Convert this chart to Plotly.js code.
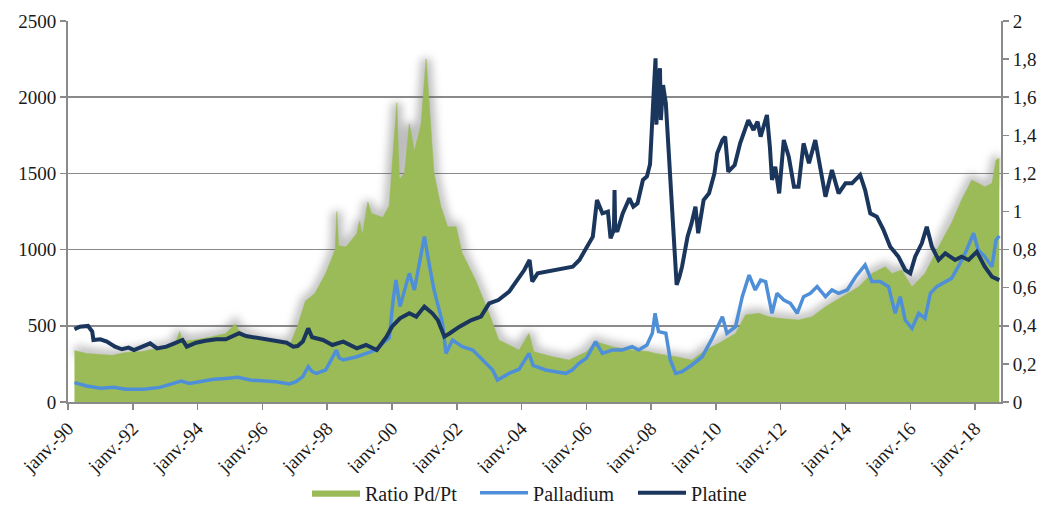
<!DOCTYPE html>
<html>
<head>
<meta charset="utf-8">
<script src="https://cdn.plot.ly/plotly-3.0.1.min.js"></script>
<style>
  html, body { margin: 0; padding: 0; background: #ffffff; }
  #chart { width: 1043px; height: 506px; }
</style>
</head>
<body>
<div id="chart"></div>
<script>
// Platinum price (USD/oz), left axis
const platineDates = ['1990-03-15','1990-05-15','1990-08-15','1990-10-01','1990-10-15','1991-01-01','1991-03-15','1991-06-15','1991-09-01','1991-11-15',
  '1992-01-15','1992-04-01','1992-07-15','1992-10-01','1993-01-15','1993-04-15','1993-07-15','1993-09-01','1993-12-15','1994-04-01',
  '1994-08-01','1994-11-15','1995-02-01','1995-04-15','1995-07-01','1995-10-15','1996-02-15','1996-06-01','1996-10-01','1996-12-15',
  '1997-02-01','1997-04-01','1997-06-01','1997-07-15','1997-11-15','1998-03-01','1998-07-01','1998-12-01','1999-03-15','1999-07-15',
  '1999-11-01','2000-01-01','2000-04-01','2000-07-15','2000-10-01','2001-01-01','2001-04-01','2001-06-01','2001-08-15','2001-10-15',
  '2002-02-01','2002-06-15','2002-10-01','2003-01-01','2003-04-15','2003-08-15','2003-12-01','2004-02-01','2004-04-01','2004-05-01',
  '2004-07-01','2004-10-01','2005-01-15','2005-05-15','2005-08-01','2005-10-15','2006-01-01','2006-03-15','2006-05-01','2006-07-01',
  '2006-09-01','2006-10-01','2006-11-08','2006-11-15','2006-11-22','2006-12-15','2007-02-15','2007-05-01','2007-06-15','2007-08-01',
  '2007-10-01','2007-11-15','2007-12-20','2008-01-15','2008-02-01','2008-02-20','2008-03-01','2008-03-20','2008-04-10','2008-04-20',
  '2008-05-15','2008-06-15','2008-08-01','2008-09-15','2008-10-15','2008-11-15','2008-12-15','2009-02-15','2009-04-01','2009-05-15',
  '2009-06-15','2009-08-15','2009-10-15','2009-12-15','2010-01-15','2010-03-15','2010-04-15','2010-05-20','2010-08-01','2010-10-01',
  '2011-01-01','2011-03-01','2011-04-15','2011-05-20','2011-07-30','2011-09-01','2011-09-25','2011-11-01','2011-12-15','2012-02-05',
  '2012-04-01','2012-05-30','2012-07-20','2012-09-15','2012-11-15','2013-01-25','2013-03-25','2013-05-20','2013-08-01','2013-10-15',
  '2014-01-01','2014-03-15','2014-06-15','2014-08-10','2014-10-07','2014-12-20','2015-03-05','2015-05-20','2015-08-20','2015-11-05',
  '2016-01-01','2016-02-25','2016-05-10','2016-07-05','2016-09-01','2016-11-15','2017-01-30','2017-05-20','2017-08-01','2017-10-20',
  '2018-01-20','2018-04-20','2018-07-10','2018-08-25','2018-10-01'];
const platineValues = [477,494,499,462,407,411,396,363,346,357,
  341,357,385,352,363,385,407,363,389,402,
  411,411,429,451,433,424,411,402,389,363,
  367,396,483,425,407,374,396,352,374,341,
  429,494,549,582,560,626,582,538,429,451,
  494,538,560,647,669,724,820,866,932,790,
  844,855,866,877,888,932,1008,1085,1325,1238,
  1249,1074,1130,1391,1140,1118,1238,1336,1282,1304,
  1457,1480,1560,1800,2050,2255,1820,2080,2190,1850,
  2080,1960,1500,1063,768,820,888,1085,1172,1282,
  1107,1325,1369,1500,1632,1719,1741,1511,1555,1697,
  1850,1785,1839,1741,1883,1675,1457,1544,1369,1719,
  1610,1413,1413,1697,1566,1719,1544,1347,1522,1369,
  1435,1435,1490,1391,1238,1216,1129,1019,954,866,
  844,954,1041,1150,1019,932,975,932,954,932,
  986,888,822,811,800];

// Palladium price (USD/oz), left axis
const palladiumDates = ['1990-03-15','1990-08-01','1991-01-01','1991-06-01','1991-10-15','1992-05-01','1992-11-01','1993-02-15','1993-07-01','1993-10-01',
  '1994-02-01','1994-07-01','1994-11-15','1995-04-01','1995-08-15','1996-01-01','1996-06-01','1996-11-01','1997-01-15','1997-04-01',
  '1997-06-01','1997-07-15','1997-09-01','1997-12-15','1998-04-15','1998-05-15','1998-07-01','1998-12-01','1999-03-15','1999-07-01',
  '1999-11-01','1999-12-01','2000-01-15','2000-02-15','2000-04-01','2000-07-15','2000-09-10','2000-11-01','2001-01-01','2001-03-01',
  '2001-04-20','2001-07-25','2001-09-01','2001-11-15','2002-03-05','2002-07-01','2002-10-15','2003-02-10','2003-04-05','2003-08-15',
  '2003-12-05','2004-03-25','2004-05-10','2004-10-01','2005-01-20','2005-05-15','2005-07-25','2005-10-10','2006-01-01','2006-04-15',
  '2006-07-01','2006-10-20','2007-02-10','2007-06-01','2007-08-15','2007-11-15','2008-01-15','2008-02-15','2008-03-25','2008-06-15',
  '2008-08-05','2008-10-05','2008-12-15','2009-04-05','2009-07-30','2009-11-20','2010-03-15','2010-05-05','2010-08-10','2010-10-25',
  '2011-01-10','2011-03-20','2011-05-20','2011-07-15','2011-09-25','2011-11-20','2012-02-05','2012-04-20','2012-07-05','2012-09-15',
  '2012-12-01','2013-02-15','2013-05-20','2013-08-01','2013-10-15','2014-01-20','2014-04-25','2014-08-10','2014-10-25','2015-01-25',
  '2015-05-01','2015-07-15','2015-09-10','2015-11-05','2016-01-20','2016-04-05','2016-06-15','2016-08-15','2016-10-25','2017-01-10',
  '2017-04-10','2017-06-25','2017-09-10','2017-12-15','2018-02-05','2018-04-20','2018-07-10','2018-08-25','2018-10-01'];
const palladiumValues = [127,105,90,96,83,83,96,112,138,122,
  133,149,155,162,144,140,133,118,133,166,
  232,199,188,210,340,290,276,297,319,341,
  407,420,669,800,626,844,735,888,1085,888,
  735,516,319,407,363,341,276,210,144,188,
  215,319,240,210,199,188,210,254,287,396,
  319,341,341,363,341,374,451,582,462,451,
  276,188,199,243,297,418,560,451,494,691,
  833,735,800,790,582,713,669,647,582,691,
  713,757,691,735,713,735,822,899,790,790,
  757,582,691,538,483,582,549,713,757,779,
  811,888,975,1107,997,954,888,1063,1090];

// Pd/Pt ratio, right axis
const ratioDates = ['1990-03-15','1990-08-01','1991-01-01','1991-05-15','1991-10-15','1992-04-15','1992-11-01','1993-04-15','1993-06-15','1993-07-10',
  '1993-11-15','1994-05-15','1994-11-15','1995-03-01','1995-04-10','1995-07-01','1995-12-01','1996-06-01','1996-11-15','1997-02-01',
  '1997-05-01','1997-08-15','1997-12-15','1998-04-01','1998-04-20','1998-05-10','1998-08-01','1998-12-01','1999-01-01','1999-02-01',
  '1999-04-05','1999-05-15','1999-09-20','1999-12-01','2000-02-25','2000-03-25','2000-05-20','2000-07-15','2000-09-10','2000-11-25',
  '2001-01-20','2001-02-28','2001-04-20','2001-07-05','2001-09-20','2001-12-25','2002-03-05','2002-08-01','2003-01-01','2003-04-20',
  '2003-09-15','2003-12-05','2004-03-25','2004-05-20','2004-12-15','2005-06-20','2006-01-01','2006-04-15','2006-10-20','2007-06-01',
  '2007-12-10','2008-02-20','2008-06-15','2008-10-05','2009-04-05','2009-09-05','2010-02-01','2010-08-10','2010-12-01','2011-05-01',
  '2011-08-15','2011-12-10','2012-07-20','2012-12-20','2013-05-20','2013-11-20','2014-05-30','2014-10-25','2015-03-25','2015-06-10',
  '2015-09-25','2016-01-20','2016-06-15','2016-11-15','2017-04-10','2017-08-01','2017-11-25','2018-02-05','2018-04-20','2018-07-10',
  '2018-08-25','2018-10-01'];
const ratioValues = [0.27,0.255,0.25,0.245,0.26,0.265,0.285,0.30,0.37,0.32,
  0.325,0.34,0.36,0.41,0.375,0.355,0.33,0.31,0.31,0.40,
  0.53,0.57,0.675,0.80,1.0,0.82,0.815,0.885,0.95,0.88,
  1.05,0.99,0.97,1.03,1.57,1.17,1.20,1.46,1.32,1.46,
  1.80,1.55,1.20,1.03,0.92,0.92,0.78,0.64,0.465,0.325,
  0.29,0.273,0.36,0.264,0.238,0.22,0.264,0.317,0.29,0.273,
  0.264,0.255,0.246,0.238,0.22,0.273,0.308,0.36,0.457,0.466,
  0.448,0.44,0.43,0.448,0.50,0.553,0.605,0.675,0.71,0.675,
  0.693,0.605,0.675,0.815,0.94,1.06,1.165,1.148,1.13,1.148,
  1.27,1.28];

// x-axis ticks every two years
const tickDates = ['1990-01-01','1992-01-01','1994-01-01','1996-01-01','1998-01-01','2000-01-01','2002-01-01',
  '2004-01-01','2006-01-01','2008-01-01','2010-01-01','2012-01-01','2014-01-01','2016-01-01','2018-01-01'];
const tickLabels = ['janv.-90','janv.-92','janv.-94','janv.-96','janv.-98','janv.-00','janv.-02',
  'janv.-04','janv.-06','janv.-08','janv.-10','janv.-12','janv.-14','janv.-16','janv.-18'];

const serif = 'Liberation Serif';
const axisGrey = '#8a8a8a';
const textColor = '#1a1a1a';
const tickFont = { family: serif, size: 19, color: textColor };

const traces = [
  { // soft shadow under the ratio area
    x: ratioDates, y: ratioValues, yaxis: 'y', type: 'scatter', mode: 'lines',
    line: { color: 'rgba(90,90,90,0.4)', width: 10 },
    hoverinfo: 'skip', showlegend: false
  },
  {
    name: 'Ratio Pd/Pt', x: ratioDates, y: ratioValues, yaxis: 'y', type: 'scatter', mode: 'lines',
    fill: 'tozeroy', fillcolor: '#9BBB59', line: { color: '#9BBB59', width: 0.5 },
    legendwidth: 105
  },
  {
    name: 'Palladium', x: palladiumDates, y: palladiumValues, yaxis: 'y2', type: 'scatter', mode: 'lines',
    line: { color: '#4F8FD8', width: 3.5 },
    legendwidth: 95
  },
  {
    name: 'Platine', x: platineDates, y: platineValues, yaxis: 'y2', type: 'scatter', mode: 'lines',
    line: { color: '#1B365D', width: 4 },
    legendwidth: 60
  }
];

const layout = {
  width: 1043, height: 506,
  margin: { l: 68, r: 42, t: 21, b: 104 },
  paper_bgcolor: '#ffffff', plot_bgcolor: '#ffffff',
  separators: ', ',
  font: { family: serif, size: 19, color: textColor },
  showlegend: true,
  legend: {
    orientation: 'h', x: 0.5096, xanchor: 'center', xref: 'container',
    y: 0.026, yanchor: 'middle', yref: 'container',
    font: { family: serif, size: 20, color: textColor },
    traceorder: 'normal', itemwidth: 48, tracegroupgap: 0
  },
  xaxis: {
    type: 'date', range: ['1990-01-01', '2018-10-20'],
    tickmode: 'array', tickvals: tickDates, ticktext: tickLabels, tickangle: -45,
    ticks: 'outside', ticklen: 6, tickcolor: axisGrey, tickwidth: 1.5,
    showline: true, linecolor: axisGrey, linewidth: 2,
    showgrid: false, zeroline: false, automargin: false,
    tickfont: tickFont
  },
  yaxis: {
    side: 'right', range: [0, 2], dtick: 0.2, tick0: 0,
    ticks: 'outside', ticklen: 6, tickcolor: axisGrey, tickwidth: 1.5,
    showline: true, linecolor: axisGrey, linewidth: 2,
    showgrid: false, zeroline: false, automargin: false,
    tickfont: tickFont
  },
  yaxis2: {
    overlaying: 'y', side: 'left', range: [0, 2500], dtick: 500, tick0: 0,
    ticks: 'outside', ticklen: 6, tickcolor: axisGrey, tickwidth: 1.5,
    showline: true, linecolor: axisGrey, linewidth: 2,
    showgrid: true, gridcolor: axisGrey, gridwidth: 1.6,
    zeroline: false, automargin: false,
    tickfont: tickFont
  }
};

Plotly.newPlot('chart', traces, layout, { staticPlot: true }).then(function (gd) {
  // blur the shadow line so it reads as a soft glow around the ratio area
  const glow = gd.querySelector('.subplot.xy .scatterlayer .trace');
  if (glow) {
    glow.querySelectorAll('path.js-line').forEach(function (p) {
      p.style.filter = 'blur(4px)';
    });
  }
});
</script>
</body>
</html>
